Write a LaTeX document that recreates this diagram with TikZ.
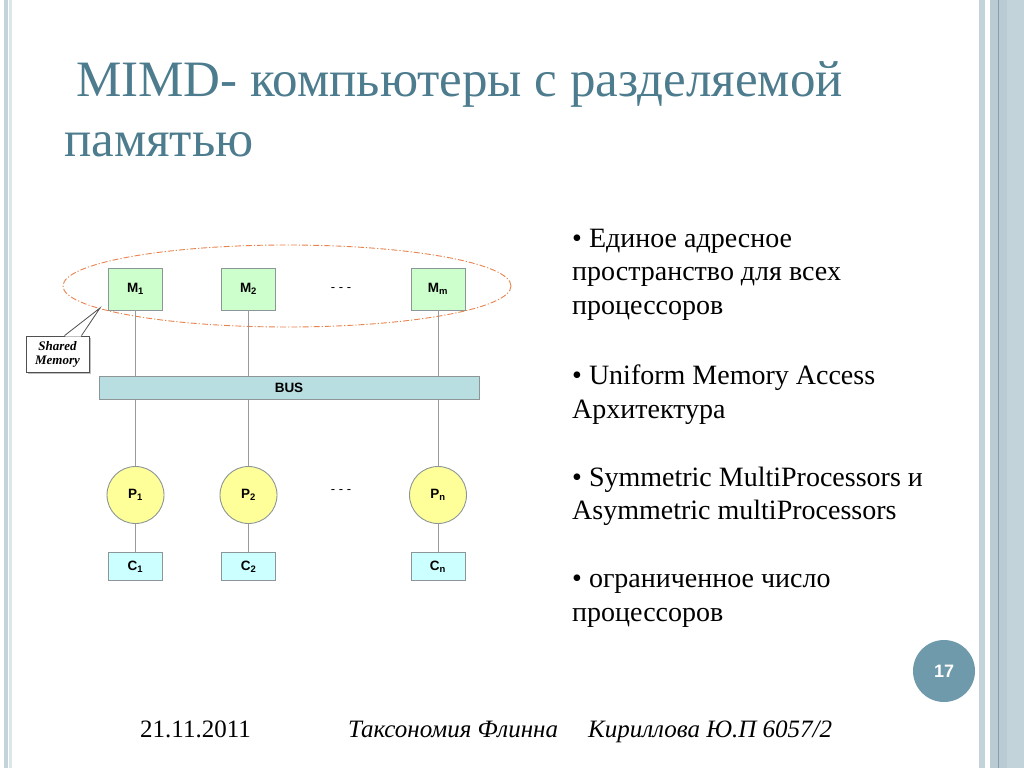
\documentclass[tikz,border=0pt]{standalone}
\usepackage{fontspec}
\setmainfont{Liberation Serif}
\newfontfamily\arialfont{Liberation Sans}
\usetikzlibrary{shapes.geometric,calc,shadows}

\definecolor{titlecol}{HTML}{4D7C8E}
\definecolor{frameA}{HTML}{C3D3DA}
\definecolor{frameB}{HTML}{DCE6EA}
\definecolor{frameC}{HTML}{BACBD3}
\definecolor{frameLine}{HTML}{7FA1AE}
\definecolor{pagecol}{HTML}{6F9AAB}
\definecolor{memfill}{HTML}{CCFFCC}
\definecolor{busfill}{HTML}{B9DEE1}
\definecolor{procfill}{HTML}{FFFF99}
\definecolor{cachefill}{HTML}{CCFFFF}
\definecolor{edgecol}{HTML}{8C9696}
\definecolor{wirecol}{HTML}{9A9A9A}
\definecolor{sharedcol}{HTML}{E8834E}
\definecolor{calloutcol}{HTML}{505050}

\tikzset{
  lbl/.style={font=\arialfont\bfseries\fontsize{13.5}{13.5}\selectfont, text=black, inner sep=0pt},
  membox/.style={lbl, draw=edgecol, fill=memfill, line width=0.9pt, minimum width=54pt, minimum height=42pt},
  cachebox/.style={lbl, draw=edgecol, fill=cachefill, line width=0.9pt, minimum width=54pt, minimum height=28pt},
  procnode/.style={lbl, circle, draw=edgecol, fill=procfill, line width=0.9pt, minimum size=57pt},
  busbox/.style={lbl, draw=edgecol, fill=busfill, line width=0.9pt, minimum width=380pt, minimum height=23pt},
  wire/.style={draw=wirecol, line width=0.9pt},
  dots/.style={font=\arialfont\fontsize{13}{13}\selectfont, inner sep=0pt},
  bullettext/.style={anchor=base west, inner sep=0pt, align=left, font=\fontsize{28}{33.5}\selectfont},
  footertext/.style={anchor=base west, inner sep=0pt, font=\fontsize{25}{25}\selectfont},
  titletext/.style={anchor=base west, inner sep=0pt, text=titlecol, font=\fontsize{51}{51}\selectfont},
}

\begin{document}
\begin{tikzpicture}[x=1pt, y=-1pt]
\useasboundingbox (0,0) rectangle (1024,768);
\fill[white] (0,0) rectangle (1024,768);

% slide frame
\fill[frameA] (4,0) rectangle (7.5,768);
\fill[frameB] (8.5,0) rectangle (12,768);
\fill[frameA] (979,0) rectangle (984.5,768);
\fill[frameA] (990,0) rectangle (1024,768);
\fill[frameC] (990,0) rectangle (1007,768);
\fill[frameLine] (997.6,0) rectangle (999.1,768);

% title
\node[titletext] (t1) at (76,96) {MIMD- компьютеры с разделяемой};
\node[titletext] (t2) at (64,156) {памятью};

% bullet list (each node is anchored at the baseline of its last line)
\node[bullettext] (b1) at (572,314) {• Единое адресное\\пространство для всех\\процессоров};
\node[bullettext] (b2) at (572,418) {• Uniform Memory Access\\Архитектура};
\node[bullettext] (b3) at (572,519.5) {• Symmetric MultiProcessors и\\Asymmetric multiProcessors};
\node[bullettext] (b4) at (572,621) {• ограниченное число\\процессоров};

% memory modules
\node[membox] (m1) at (135.5,289) {M\textsubscript{1}};
\node[membox] (m2) at (248.5,289) {M\textsubscript{2}};
\node[membox] (mm) at (438,289) {M\textsubscript{m}};
\node[dots] (mdots) at (341,290) {- - -};

% shared memory outline
\node[ellipse, draw=sharedcol, line width=0.9pt, dash pattern=on 6pt off 2pt on 1.2pt off 2pt,
      minimum width=448pt, minimum height=82pt, inner sep=0pt] (shm) at (287,286) {};

% bus
\node[busbox] (bus) at (289,388) {BUS};

% processors and caches
\node[procnode] (p1) at (135.5,495) {P\textsubscript{1}};
\node[procnode] (p2) at (248.5,495) {P\textsubscript{2}};
\node[procnode] (pn) at (438,495) {P\textsubscript{n}};
\node[dots] (pdots) at (341,492) {- - -};

\node[cachebox] (c1) at (135.5,566.5) {C\textsubscript{1}};
\node[cachebox] (c2) at (248.5,566.5) {C\textsubscript{2}};
\node[cachebox] (cn) at (438,566.5) {C\textsubscript{n}};

% connections
\foreach \m in {m1,m2,mm} \draw[wire] (\m.south) -- (\m.south |- bus.north);
\foreach \p in {p1,p2,pn} \draw[wire] (\p.north |- bus.south) -- (\p.north);
\draw[wire] (p1.south) -- (c1.north);
\draw[wire] (p2.south) -- (c2.north);
\draw[wire] (pn.south) -- (cn.north);

% callout
\node[draw=calloutcol, fill=white, line width=0.8pt, minimum width=63pt, minimum height=36pt,
      inner sep=0pt, align=center,
      drop shadow={shadow xshift=1.5pt, shadow yshift=-1.5pt, opacity=0.5, fill=gray},
      font=\bfseries\itshape\fontsize{13}{14}\selectfont] (sm) at (57.5,354) {Shared\\Memory};
\coordinate (tip) at (100,308);
\fill[white] ($(sm.north)+(7.6,0.9)$) -- (tip) -- ($(sm.north)+(23.4,0.9)$) -- cycle;
\draw[calloutcol, line width=0.8pt] ($(sm.north)+(7,0)$) -- (tip) -- ($(sm.north)+(24,0)$);

% page number
\node[circle, fill=pagecol, minimum size=62pt, inner sep=0pt, text=white,
      font=\arialfont\bfseries\fontsize{18}{18}\selectfont] (pg) at (944,671) {17};

% footer
\node[footertext] (f1) at (140,737) {21.11.2011};
\node[footertext, font=\itshape\fontsize{25}{25}\selectfont] (f2) at (348,737) {Таксономия Флинна};
\node[footertext, font=\itshape\fontsize{25}{25}\selectfont] (f3) at (588,737) {Кириллова Ю.П 6057/2};
\end{tikzpicture}
\end{document}
